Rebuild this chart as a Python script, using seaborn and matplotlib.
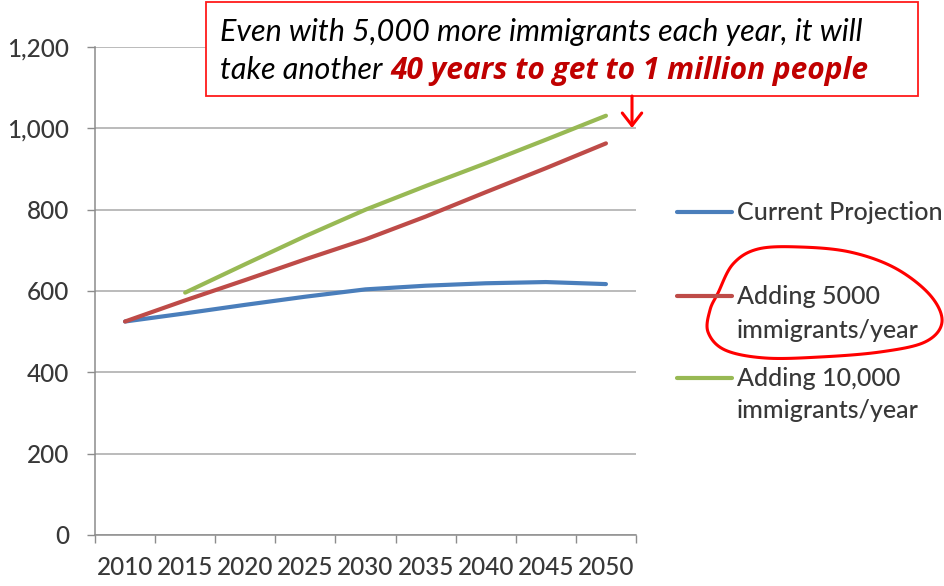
import numpy as np
import pandas as pd
import matplotlib
matplotlib.use("Agg")
import matplotlib.pyplot as plt
import seaborn as sns
from matplotlib.lines import Line2D
from matplotlib.patches import Rectangle, FancyArrowPatch, Polygon

# Population projection (thousands) by year
years = [2010, 2015, 2020, 2025, 2030, 2035, 2040, 2045, 2050]
current_projection = [525, 545, 566, 586, 604, 613, 619, 622, 617]
adding_5000 = [525, 577, 627, 678, 727, 783, 843, 902, 963]
adding_10000 = [np.nan, 596, 666, 735, 800, 858, 914, 972, 1031]

series_labels = ["Current Projection",
                 "Adding 5000\nimmigrants/year",
                 "Adding 10,000\nimmigrants/year"]
series_colors = ["#4a7ebb", "#be4b48", "#98b954"]
y_ticks = [0, 200, 400, 600, 800, 1000, 1200]

headline_1 = "Even with 5,000 more immigrants each year, it will"
headline_2a = "take another"
headline_2b = "40 years to get to 1 million people"

sns.set_theme(style="white")
plt.rcParams["font.family"] = ["Lato", "DejaVu Sans"]

W, H = 944, 586
fig = plt.figure(figsize=(W / 100, H / 100), dpi=100)


def fx(px):
    return px / W


def fy(py):
    return 1 - py / H


ax = fig.add_axes([fx(95), fy(535), fx(636) - fx(95), fy(47) - fy(535)])

df = pd.DataFrame({
    "year": years * 3,
    "value": current_projection + adding_5000 + adding_10000,
    "series": [lab for lab in series_labels for _ in years],
})
sns.lineplot(data=df, x="year", y="value", hue="series",
             palette=dict(zip(series_labels, series_colors)),
             estimator=None, linewidth=3.0, legend=False, ax=ax)

ax.set_xlim(years[0] - 2.5, years[-1] + 2.5)
ax.set_ylim(y_ticks[0], y_ticks[-1])
ax.set_xticks(years)
ax.set_xticklabels([str(y) for y in years])
ax.set_xticks(np.arange(years[0] - 2.5, years[-1] + 5, 5), minor=True)
ax.set_yticks(y_ticks)
ax.set_yticklabels([f"{v:,}" for v in y_ticks])
ax.set_xlabel("")
ax.set_ylabel("")

tick_col = "#383838"
axis_col = "#8c8c8c"
ax.tick_params(axis="x", which="major", bottom=True, length=0, pad=15,
               labelsize=17.5, labelcolor=tick_col)
ax.tick_params(axis="x", which="minor", bottom=True, length=5.5, width=1,
               color=axis_col, direction="out")
ax.tick_params(axis="y", left=True, length=5.5, width=1, color=axis_col,
               pad=13, labelsize=17.5, labelcolor=tick_col, direction="out")
for lbl in ax.get_xticklabels() + ax.get_yticklabels():
    lbl.set_fontweight("medium")
ax.yaxis.grid(True, color="#b5b5b5", linewidth=1.3)
ax.xaxis.grid(False)
for s in ["top", "right"]:
    ax.spines[s].set_visible(False)
for s in ["left", "bottom"]:
    ax.spines[s].set_color(axis_col)
    ax.spines[s].set_linewidth(1.1)

# Legend drawn beside the plot, handle aligned with the first text line
legend_rows = [[212], [296, 330], [378, 411]]
for lab, col, rows in zip(series_labels, series_colors, legend_rows):
    fig.add_artist(Line2D([fx(677), fx(732)], [fy(rows[0]), fy(rows[0])],
                          transform=fig.transFigure, color=col, lw=3.0,
                          solid_capstyle="round"))
    for line, ry in zip(lab.split("\n"), rows):
        fig.text(fx(737), fy(ry), line, fontsize=18, fontweight="medium",
                 color=tick_col, va="center", ha="left")

# Callout box with headline
fig.add_artist(Rectangle((fx(206), fy(96)), fx(918) - fx(206), fy(2) - fy(96),
                         transform=fig.transFigure, facecolor="white",
                         edgecolor="#ff1a1a", lw=1.3, zorder=3))
fig.text(fx(220), fy(41), headline_1, fontsize=22, style="italic",
         color="black", va="baseline", ha="left", zorder=4)
t2 = fig.text(fx(220), fy(79), headline_2a, fontsize=22, style="italic",
              color="black", va="baseline", ha="left", zorder=4)
fig.canvas.draw()
x_end = t2.get_window_extent(fig.canvas.get_renderer()).x1
fig.text((x_end + 8) / W, fy(79), headline_2b, fontsize=21.5, style="italic",
         weight="bold", family=["Open Sans", "DejaVu Sans"], color="#c00000",
         va="baseline", ha="left", zorder=4)

fig.add_artist(FancyArrowPatch((fx(632), fy(96)), (fx(632), fy(128)),
                               transform=fig.transFigure,
                               arrowstyle="->,head_length=0.45,head_width=0.35",
                               mutation_scale=20, color="#ff0000", lw=2.2,
                               shrinkA=0, shrinkB=0, zorder=4))

# Hand-drawn loop around the 5000 series legend entry
loop = np.array([(718, 293), (733, 264), (758, 249), (800, 247), (850, 252),
                 (895, 268), (930, 295), (942, 322), (925, 342), (880, 352),
                 (820, 357), (765, 358), (725, 350), (708, 332), (710, 310)],
                dtype=float)
n = len(loop)
smooth = []
for i in range(n):
    p0, p1, p2, p3 = loop[i - 1], loop[i], loop[(i + 1) % n], loop[(i + 2) % n]
    for t in np.linspace(0, 1, 12, endpoint=False):
        tt, ttt = t * t, t * t * t
        smooth.append(0.5 * ((2 * p1) + (-p0 + p2) * t
                             + (2 * p0 - 5 * p1 + 4 * p2 - p3) * tt
                             + (-p0 + 3 * p1 - 3 * p2 + p3) * ttt))
smooth = np.array(smooth)
fig.add_artist(Polygon(np.column_stack([smooth[:, 0] / W, 1 - smooth[:, 1] / H]),
                       closed=True, transform=fig.transFigure, fill=False,
                       edgecolor="#ff0000", lw=2.2, joinstyle="round"))

fig.savefig("out.png", dpi=100)
